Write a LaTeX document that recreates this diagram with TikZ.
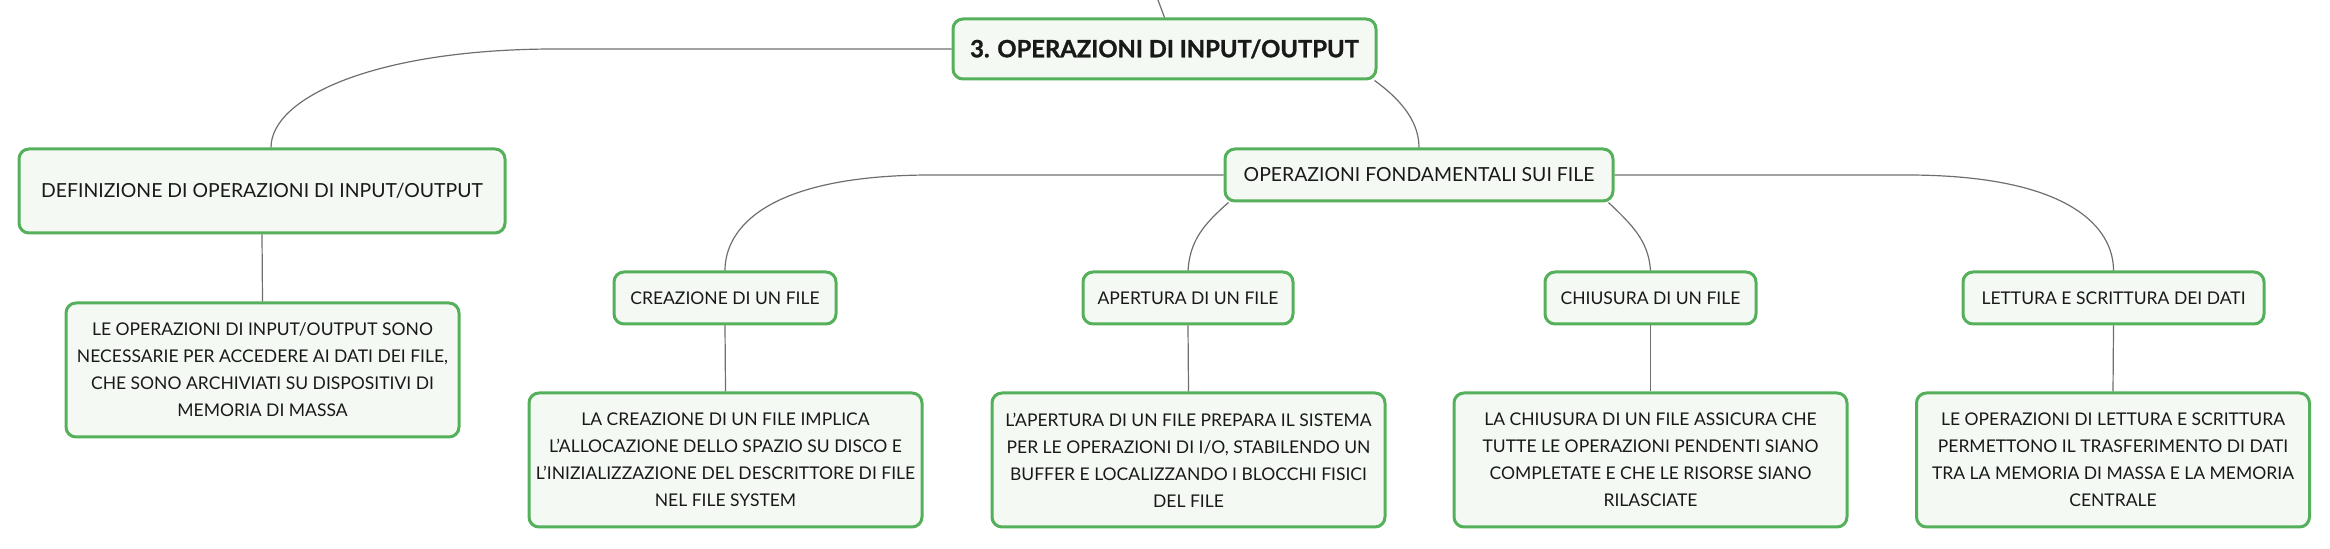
\documentclass[tikz,border=0pt]{standalone}
\usepackage{fontspec}
\setmainfont{Lato}
\usetikzlibrary{calc}
\definecolor{boxgreen}{RGB}{84,176,90}
\definecolor{boxfill}{RGB}{244,249,244}
\definecolor{linkgray}{RGB}{110,110,110}
\tikzset{
  box/.style={draw=boxgreen, fill=boxfill, line width=1.5pt, rounded corners=5pt,
    align=center, inner sep=0pt, text=black!90,
    font=\fontsize{8.75}{13.5}\selectfont},
  topbox/.style={box, font=\fontsize{11.9}{15}\selectfont\bfseries\addfontfeatures{FakeBold=1.2}},
  subbox/.style={font=\fontsize{9.7}{13.5}\selectfont},
  midbox/.style={box, minimum height=26pt},
  leafbox/.style={box, minimum width=196.5pt, minimum height=67pt},
  link/.style={draw=linkgray, line width=0.6pt},
}
\newcommand{\Br}{\\}

\begin{document}
\begin{tikzpicture}[x=0.5pt, y=-0.5pt]
\useasboundingbox (0,0) rectangle (2330,549);

%%%%%%%%%%%%%%%%%%%%%%%%%%%%%%%%%%%%%%%%%%%%%%%%%%%%%%%%%%%%%% root
\coordinate (up) at (1158,0);
\node[topbox, minimum width=211.5pt, minimum height=30pt] (root) at (1164.5,49) {3. OPERAZIONI DI INPUT/OUTPUT};
\draw[link] (up) -- (root.north);

%%%%%%%%%%%%%%%%%%%%%%%%%%%%%%%%%%%%%%%%%%%%%%%%%%%%%%%%%%%%%% definizione
\node[box, subbox, minimum width=243pt, minimum height=42pt] (def) at (262,191) {DEFINIZIONE DI OPERAZIONI DI INPUT/OUTPUT};
\node[leafbox] (defx) at (262.5,370) {LE OPERAZIONI DI INPUT/OUTPUT SONO\Br NECESSARIE PER ACCEDERE AI DATI DEI FILE,\Br CHE SONO ARCHIVIATI SU DISPOSITIVI DI\Br MEMORIA DI MASSA};

\draw[link] (root.west) -- ++(-396,0) .. controls +(-180,0) and ($(def.north)+(9,-50)$) .. ($(def.north)+(9,0)$);
\draw[link] (def.south) -- (defx.north);

%%%%%%%%%%%%%%%%%%%%%%%%%%%%%%%%%%%%%%%%%%%%%%%%%%%%%%%%%%%%%% operazioni fondamentali
\node[midbox, subbox, minimum width=194pt] (fond) at (1419,175) {OPERAZIONI FONDAMENTALI SUI FILE};
\draw[link] ($(root.south east)+(-3,0)$) .. controls ($(root.south east)+(19,16)$) and ($(fond.north)+(0,-29)$) .. (fond.north);

%%%%%%%%%%%%%%%%%%%%%%%%%%%%%%%%%%%%%%%%%%%%%%%%%%%%%%%%%%%%%% creazione
\node[midbox, minimum width=111pt] (crea) at (725,298) {CREAZIONE DI UN FILE};
\node[leafbox] (creax) at (725.5,460) {LA CREAZIONE DI UN FILE IMPLICA\Br L'ALLOCAZIONE DELLO SPAZIO SU DISCO E\Br L'INIZIALIZZAZIONE DEL DESCRITTORE DI FILE\Br NEL FILE SYSTEM};
\draw[link] (fond.west) -- ++(-292,0) .. controls +(-165,0) and ($(crea.north)+(0,-42)$) .. (crea.north);
\draw[link] (crea.south) -- (creax.north);

%%%%%%%%%%%%%%%%%%%%%%%%%%%%%%%%%%%%%%%%%%%%%%%%%%%%%%%%%%%%%% apertura
\node[midbox, minimum width=105pt] (aper) at (1188,298) {APERTURA DI UN FILE};
\node[leafbox] (aperx) at (1188.5,460) {L'APERTURA DI UN FILE PREPARA IL SISTEMA\Br PER LE OPERAZIONI DI I/O, STABILENDO UN\Br BUFFER E LOCALIZZANDO I BLOCCHI FISICI\Br DEL FILE};
\draw[link] ($(fond.south west)+(5,0)$) .. controls ($(fond.south west)+(-20,22)$) and ($(aper.north)+(2,-30)$) .. (aper.north);
\draw[link] (aper.south) -- (aperx.north);

%%%%%%%%%%%%%%%%%%%%%%%%%%%%%%%%%%%%%%%%%%%%%%%%%%%%%%%%%%%%%% chiusura
\node[midbox, minimum width=105.5pt] (chiu) at (1650.5,298) {CHIUSURA DI UN FILE};
\node[leafbox] (chiux) at (1650.5,460) {LA CHIUSURA DI UN FILE ASSICURA CHE\Br TUTTE LE OPERAZIONI PENDENTI SIANO\Br COMPLETATE E CHE LE RISORSE SIANO\Br RILASCIATE};
\draw[link] ($(fond.south east)+(-6,0)$) .. controls ($(fond.south east)+(17,22)$) and ($(chiu.north)+(-2,-30)$) .. (chiu.north);
\draw[link] (chiu.south) -- (chiux.north);

%%%%%%%%%%%%%%%%%%%%%%%%%%%%%%%%%%%%%%%%%%%%%%%%%%%%%%%%%%%%%% lettura
\node[midbox, minimum width=150.5pt] (lett) at (2113.5,298) {LETTURA E SCRITTURA DEI DATI};
\node[leafbox] (lettx) at (2113,460) {LE OPERAZIONI DI LETTURA E SCRITTURA\Br PERMETTONO IL TRASFERIMENTO DI DATI\Br TRA LA MEMORIA DI MASSA E LA MEMORIA\Br CENTRALE};
\draw[link] (fond.east) -- ++(292,0) .. controls +(165,0) and ($(lett.north)+(0,-42)$) .. (lett.north);
\draw[link] (lett.south) -- (lettx.north);

\end{tikzpicture}
\end{document}
